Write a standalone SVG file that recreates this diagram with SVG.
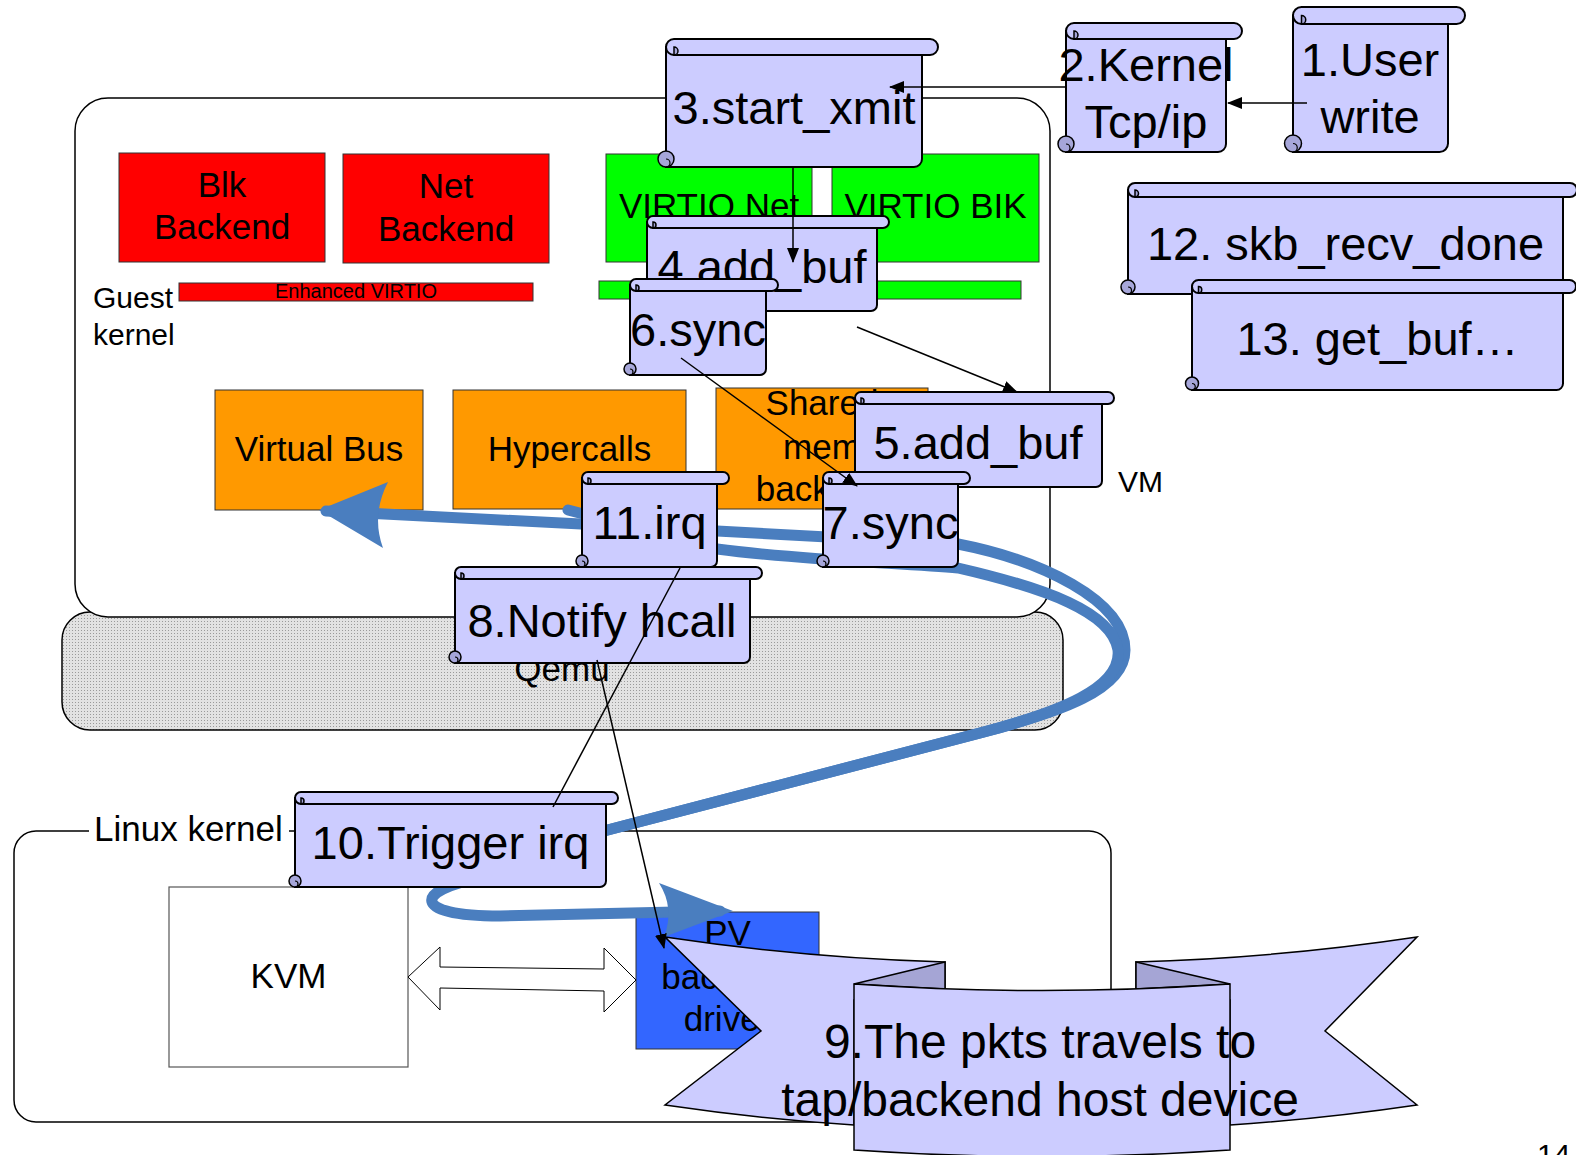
<svg xmlns="http://www.w3.org/2000/svg" width="1576" height="1155" viewBox="0 0 1576 1155">
<style>
text{font-family:"Liberation Sans",Arial,sans-serif;fill:#000}
.c{text-anchor:middle}
.s47{font-size:47px}
.s35{font-size:35px}
.sb{fill:#CCCCFF;stroke:#000;stroke-width:2}
.cu{fill:#A6A6D9;stroke:#000;stroke-width:1.5}
.cl{fill:none;stroke:#000;stroke-width:1.2}
.red{fill:#FF0000;stroke:#333;stroke-width:1}
.grn{fill:#00FF00;stroke:#333;stroke-width:1}
.org{fill:#FF9900;stroke:#333;stroke-width:1}
.blue{fill:none;stroke:#4A7EBF;stroke-width:11;stroke-linecap:round;stroke-linejoin:round}
.bh{fill:#4A7EBF}
.con{fill:none;stroke:#000;stroke-width:1.5}
.rib{fill:#CCCCFF;stroke:#000;stroke-width:1.5}
.fold{fill:#A5A5D5;stroke:#000;stroke-width:1.5}
</style>
<defs>
<pattern id="dots" width="3" height="3" patternUnits="userSpaceOnUse">
<rect width="3" height="3" fill="#e2e2e2"/>
<rect width="1" height="1" fill="#9a9a9a"/>
</pattern>
<marker id="ah" viewBox="0 0 15 12" refX="14" refY="6" markerWidth="15" markerHeight="12" markerUnits="userSpaceOnUse" orient="auto">
<path d="M0,0 L15,6 L0,12 Z" fill="#000"/>
</marker>
</defs>
<rect width="1576" height="1155" fill="#fff"/>

<g id="qemu">
<rect x="62" y="612" width="1001" height="118" rx="28" fill="url(#dots)" stroke="#000" stroke-width="1.5"/>
<text class="c s35" x="562" y="681">Qemu</text>
</g>
<g id="vm">
<rect x="75" y="98" width="975" height="519" rx="33" fill="#fff" stroke="#000" stroke-width="1.5"/>
<text x="93" y="308" style="font-size:30px">Guest</text>
<text x="93" y="345" style="font-size:30px">kernel</text>
<text x="1118" y="492" style="font-size:30px">VM</text>
</g>
<g id="linux">
<rect x="14" y="831" width="1097" height="291" rx="22" fill="#fff" stroke="#000" stroke-width="1.5"/>
<rect x="89" y="812" width="200" height="40" fill="#fff"/>
<text x="94" y="841" class="s35">Linux kernel</text>
</g>

<g id="blk"><rect class="red" x="119" y="153" width="206" height="109"/>
<text class="c s35" x="222" y="197">Blk</text><text class="c s35" x="222" y="239">Backend</text></g>
<g id="net"><rect class="red" x="343" y="154" width="206" height="109"/>
<text class="c s35" x="446" y="198">Net</text><text class="c s35" x="446" y="241">Backend</text></g>
<g id="enh"><rect class="red" x="179" y="283" width="354" height="18"/>
<text class="c" x="356" y="298" style="font-size:20px">Enhanced VIRTIO</text></g>
<g id="vnet"><rect class="grn" x="606" y="154" width="206" height="108"/>
<text class="c s35" x="709" y="218">VIRTIO Net</text></g>
<g id="vblk"><rect class="grn" x="832" y="154" width="207" height="108"/>
<text class="c s35" x="935.5" y="218">VIRTIO BIK</text></g>
<g id="gbar"><rect class="grn" x="599" y="281" width="422" height="18"/></g>
<g id="vbus"><rect class="org" x="215" y="390" width="208" height="120"/>
<text class="c s35" x="319" y="461">Virtual Bus</text></g>
<g id="hyper"><rect class="org" x="453" y="390" width="233" height="119"/>
<text class="c s35" x="569.5" y="461">Hypercalls</text></g>
<g id="shm"><rect class="org" x="716" y="388" width="212" height="121"/>
<text class="c s35" x="822" y="415">Shared</text><text class="c s35" x="822" y="459">mem</text><text class="c s35" x="822" y="501">backend</text></g>
<g id="kvm"><rect x="169" y="887" width="239" height="180" fill="#fff" stroke="#555" stroke-width="1.2"/>
<text class="c s35" x="288.5" y="988">KVM</text></g>
<g id="pv"><rect x="636" y="912" width="183" height="137" fill="#3366FF" stroke="#333" stroke-width="1"/>
<text class="c s35" x="727.5" y="945">PV</text><text class="c s35" x="727.5" y="989">backend</text><text class="c s35" x="727.5" y="1031">driver</text></g>
<g id="dbl"><path d="M408,977 L440,947 L440,967 L604,969 L604,948 L636,980 L604,1012 L604,991 L440,988 L440,1010 Z" fill="#fff" stroke="#000" stroke-width="1"/></g>

<g id="flows">
<path class="blue" d="M600,832 C700,805 900,755 980,733 C1060,712 1125,690 1125,650 C1125,600 1040,560 958,544 L717,531 L326,511"/>
<path class="bh" d="M319,510 L388,482 Q371,515 383,548 Z"/>
<path class="blue" d="M568,510 L717,549 C800,560 900,563 958,568 C1045,588 1112,612 1118,650 C1122,688 1060,712 980,733 C900,755 700,805 600,832 L480,878 C415,890 410,916 500,916 L720,911"/>
<path class="bh" d="M733,911 L659,883 Q675,908 664,937 Z"/>
</g>

<g id="s3">
<path class="sb" d="M666,47 V167 H914 A8,8 0 0 0 922,159 V47 Z"/>
<rect class="sb" x="666" y="39" width="272" height="16" rx="8"/>
<path class="cu" d="M674,47 a4,4 0 0 1 0,8 z"/>
<circle class="cu" cx="666" cy="159" r="8"/><path class="cl" d="M666,159 a4,4 0 0 1 0,8"/>
<text class="c s47" x="794" y="124">3.start_xmit</text>
</g>
<g id="s4">
<path class="sb" d="M647,222 V311 H871 A6,6 0 0 0 877,305 V222 Z"/>
<rect class="sb" x="647" y="216" width="242" height="12" rx="6"/>
<path class="cu" d="M653,222 a3,3 0 0 1 0,6 z"/>
<circle class="cu" cx="647" cy="305" r="6"/><path class="cl" d="M647,305 a3,3 0 0 1 0,6"/>
<text class="c s47" x="762" y="283">4.add_buf</text>
</g>
<g id="s6">
<path class="sb" d="M630,285 V375 H760 A6,6 0 0 0 766,369 V285 Z"/>
<rect class="sb" x="630" y="279" width="148" height="12" rx="6"/>
<path class="cu" d="M636,285 a3,3 0 0 1 0,6 z"/>
<circle class="cu" cx="630" cy="369" r="6"/><path class="cl" d="M630,369 a3,3 0 0 1 0,6"/>
<text class="c s47" x="698" y="346">6.sync</text>
</g>
<g id="s5">
<path class="sb" d="M855,398 V487 H1096 A6,6 0 0 0 1102,481 V398 Z"/>
<rect class="sb" x="855" y="392" width="259" height="12" rx="6"/>
<path class="cu" d="M861,398 a3,3 0 0 1 0,6 z"/>
<circle class="cu" cx="855" cy="481" r="6"/><path class="cl" d="M855,481 a3,3 0 0 1 0,6"/>
<text class="c s47" x="978" y="459">5.add_buf</text>
</g>
<g id="s7">
<path class="sb" d="M823,478 V567 H952 A6,6 0 0 0 958,561 V478 Z"/>
<rect class="sb" x="823" y="472" width="147" height="12" rx="6"/>
<path class="cu" d="M829,478 a3,3 0 0 1 0,6 z"/>
<circle class="cu" cx="823" cy="561" r="6"/><path class="cl" d="M823,561 a3,3 0 0 1 0,6"/>
<text class="c s47" x="890.5" y="539">7.sync</text>
</g>
<g id="s11">
<path class="sb" d="M582,478 V567 H711 A6,6 0 0 0 717,561 V478 Z"/>
<rect class="sb" x="582" y="472" width="147" height="12" rx="6"/>
<path class="cu" d="M588,478 a3,3 0 0 1 0,6 z"/>
<circle class="cu" cx="582" cy="561" r="6"/><path class="cl" d="M582,561 a3,3 0 0 1 0,6"/>
<text class="c s47" x="649.5" y="539">11.irq</text>
</g>
<g id="s8">
<path class="sb" d="M455,573 V663 H744 A6,6 0 0 0 750,657 V573 Z"/>
<rect class="sb" x="455" y="567" width="307" height="12" rx="6"/>
<path class="cu" d="M461,573 a3,3 0 0 1 0,6 z"/>
<circle class="cu" cx="455" cy="657" r="6"/><path class="cl" d="M455,657 a3,3 0 0 1 0,6"/>
<text class="c s47" x="602" y="637">8.Notify hcall</text>
</g>
<g id="s10">
<path class="sb" d="M295,798 V887 H600 A6,6 0 0 0 606,881 V798 Z"/>
<rect class="sb" x="295" y="792" width="323" height="12" rx="6"/>
<path class="cu" d="M301,798 a3,3 0 0 1 0,6 z"/>
<circle class="cu" cx="295" cy="881" r="6"/><path class="cl" d="M295,881 a3,3 0 0 1 0,6"/>
<text class="c s47" x="450.5" y="859">10.Trigger irq</text>
</g>
<g id="s12">
<path class="sb" d="M1128,190 V294 H1556 A7,7 0 0 0 1563,287 V190 Z"/>
<rect class="sb" x="1128" y="183" width="449" height="14" rx="7"/>
<path class="cu" d="M1135,190 a3.5,3.5 0 0 1 0,7 z"/>
<circle class="cu" cx="1128" cy="287" r="7"/><path class="cl" d="M1128,287 a3.5,3.5 0 0 1 0,7"/>
<text class="c s47" x="1345.5" y="260">12. skb_recv_done</text>
</g>
<g id="s13">
<path class="sb" d="M1192,286.5 V390 H1556.5 A6.5,6.5 0 0 0 1563,383.5 V286.5 Z"/>
<rect class="sb" x="1192" y="280" width="384" height="13" rx="6.5"/>
<path class="cu" d="M1198.5,286.5 a3.25,3.25 0 0 1 0,6.5 z"/>
<circle class="cu" cx="1192" cy="383.5" r="6.5"/><path class="cl" d="M1192,383.5 a3.25,3.25 0 0 1 0,6.5"/>
<text class="c s47" x="1377.5" y="355">13. get_buf…</text>
</g>
<g id="s2">
<path class="sb" d="M1066,31 V152 H1218 A8,8 0 0 0 1226,144 V31 Z"/>
<rect class="sb" x="1066" y="23" width="176" height="16" rx="8"/>
<path class="cu" d="M1074,31 a4,4 0 0 1 0,8 z"/>
<circle class="cu" cx="1066" cy="144" r="8"/><path class="cl" d="M1066,144 a4,4 0 0 1 0,8"/>
<text class="c s47" x="1146" y="81">2.Kernel</text>
<text class="c s47" x="1146" y="138">Tcp/ip</text>
</g>
<g id="s1">
<path class="sb" d="M1293,15.5 V152 H1439.5 A8.5,8.5 0 0 0 1448,143.5 V15.5 Z"/>
<rect class="sb" x="1293" y="7" width="172" height="17" rx="8.5"/>
<path class="cu" d="M1301.5,15.5 a4.25,4.25 0 0 1 0,8.5 z"/>
<circle class="cu" cx="1293" cy="143.5" r="8.5"/><path class="cl" d="M1293,143.5 a4.25,4.25 0 0 1 0,8.5"/>
<text class="c s47" x="1370" y="76">1.User</text>
<text class="c s47" x="1370" y="133">write</text>
</g>

<g id="n9">
<path class="rib" d="M665,937 Q805,958 945,962 L945,1000 L854,1000 L854,1125 Q760,1119 665,1105 L761,1031 Z"/>
<path class="rib" d="M1417,937 Q1277,958 1136,962 L1136,1000 L1230,1000 L1230,1125 Q1322,1119 1417,1105 L1325,1031 Z"/>
<path class="fold" d="M854,984 L945,962 L945,989 Z"/>
<path class="fold" d="M1230,984 L1136,962 L1136,989 Z"/>
<path class="rib" d="M854,984 Q1042,997 1230,984 L1230,1150 Q1042,1163 854,1150 Z"/>
<text class="c" x="1040" y="1058" style="font-size:48px">9.The pkts travels to</text>
<text class="c" x="1040" y="1116" style="font-size:48px">tap/backend host device</text>
</g>

<g id="connectors">
<path class="con" d="M1307,103 L1228,103" marker-end="url(#ah)"/>
<path class="con" d="M1066,87 L890,87" marker-end="url(#ah)"/>
<path class="con" d="M793,167 L793,262" marker-end="url(#ah)"/>
<path class="con" d="M857,327 L1017,392" marker-end="url(#ah)"/>
<path class="con" d="M681,358 L857,486" marker-end="url(#ah)"/>
<path class="con" d="M680,568 L553,807"/>
<path class="con" d="M597,660 L664,948" marker-end="url(#ah)"/>
</g>

<text x="1537" y="1165" style="font-size:30px">14</text>
</svg>
